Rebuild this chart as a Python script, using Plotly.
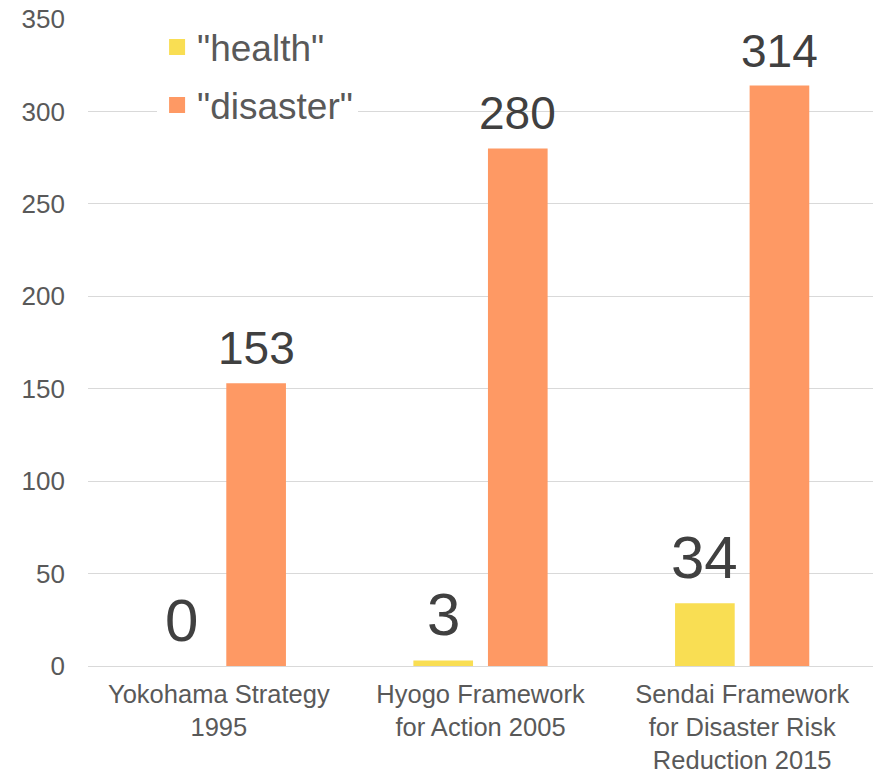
import plotly.graph_objects as go

categories = ["Yokohama Strategy<br>1995",
              "Hyogo Framework<br>for Action 2005",
              "Sendai Framework<br>for Disaster Risk<br>Reduction 2015"]
health = [0, 3, 34]
disaster = [153, 280, 314]
series_names = ['"health"', '"disaster"']
y_ticks = [0, 50, 100, 150, 200, 250, 300, 350]

colors = ["#F9DE53", "#FE9964"]
label_sizes = [60, 46]
label_shifts = [10, 7]
FONT = "Liberation Sans, Arial, sans-serif"

# page has an 8px body margin, so the figure is sized to fit the window
W, H = 873, 764
ML, MR, MT, MB = 80, 8, 11, 106
BARGAP, BARGROUPGAP = 0.43, 0.2

fig = go.Figure()
for i, (name, vals, col) in enumerate(zip(series_names, [health, disaster], colors)):
    fig.add_trace(go.Bar(
        x=categories, y=vals, name=name,
        marker=dict(color=col, line=dict(width=0)),
        showlegend=False,
    ))
    # legend-only entry with a larger square swatch
    fig.add_trace(go.Scatter(
        x=[None], y=[None], mode="markers", name=name,
        legendgroup=f"g{i}",
        marker=dict(symbol="square", size=16, color=col),
        showlegend=True,
    ))

# value labels above each bar (offset derived from the bar layout settings)
cat_px = (W - ML - MR) / len(categories)
slot_px = cat_px * (1 - BARGAP) / 2
for j, vals in enumerate([health, disaster]):
    dx = (j - 0.5) * slot_px
    for c, v in zip(categories, vals):
        fig.add_annotation(
            x=c, y=v, xref="x", yref="y", text=str(v),
            showarrow=False, xanchor="center", yanchor="bottom",
            xshift=dx, yshift=label_shifts[j],
            font=dict(size=label_sizes[j], color="#404040", family=FONT),
        )

fig.update_layout(
    width=W, height=H,
    margin=dict(l=ML, r=MR, t=MT, b=MB, autoexpand=False),
    paper_bgcolor="white", plot_bgcolor="white",
    barmode="group", bargap=BARGAP, bargroupgap=BARGROUPGAP,
    font=dict(family=FONT, color="#595959"),
    legend=dict(
        x=0.088, y=1.004, xanchor="left", yanchor="top",
        font=dict(size=37, color="#595959", family=FONT),
        bgcolor="white", traceorder="grouped", tracegroupgap=7,
        itemwidth=30,
    ),
    xaxis=dict(
        showgrid=False, showline=False, zeroline=False,
        tickfont=dict(size=25.5, color="#595959", family=FONT),
        ticklabelstandoff=10, ticklabeloverflow="allow",
    ),
    yaxis=dict(
        range=[0, 350], tickvals=y_ticks,
        showgrid=True, gridcolor="#D9D9D9", gridwidth=1,
        zeroline=True, zerolinecolor="#D9D9D9", zerolinewidth=1,
        showline=False,
        tickfont=dict(size=26, color="#595959", family=FONT),
        ticklabelstandoff=22, ticklabeloverflow="allow",
    ),
)

fig.write_html("out.html")
